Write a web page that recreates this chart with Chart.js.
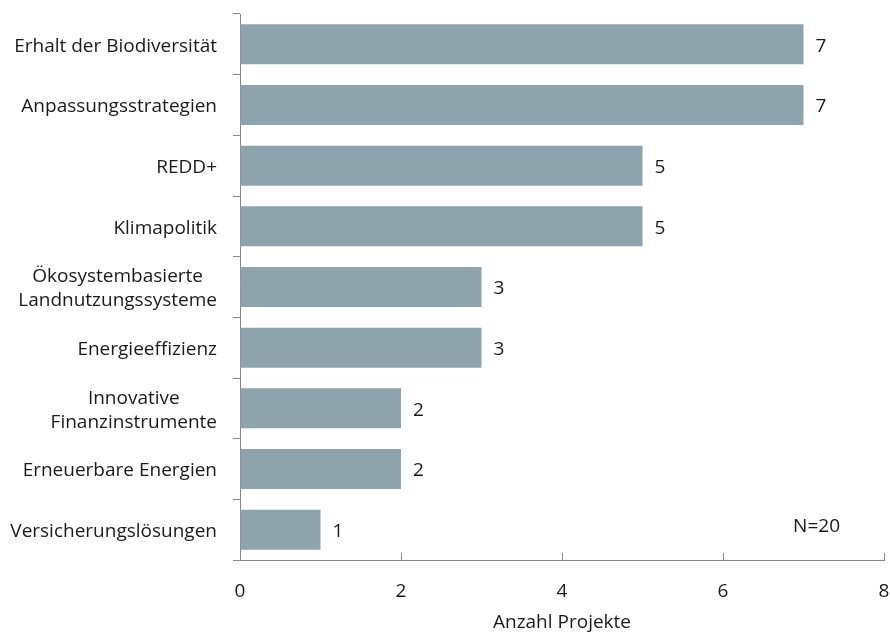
<!DOCTYPE html>
<html lang="de">
<head>
<meta charset="UTF-8">
<title>Projekte nach Themen</title>
<script src="https://cdn.jsdelivr.net/npm/chart.js"></script>
<style>
  body { margin: 0; background: #fff; }
  .wrap { width: 890px; height: 635px; }
</style>
</head>
<body>
<div class="wrap"><canvas id="grafico"></canvas></div>
<script>
// Themen (mehrzeilige Beschriftungen als Arrays)
const themen = [
  ["Erhalt der Biodiversität"],
  ["Anpassungsstrategien"],
  ["REDD+"],
  ["Klimapolitik"],
  ["Ökosystembasierte", "Landnutzungssysteme"],
  ["Energieeffizienz"],
  ["Innovative", "Finanzinstrumente"],
  ["Erneuerbare Energien"],
  ["Versicherungslösungen"]
];
const anzahl = [7, 7, 5, 5, 3, 3, 2, 2, 1];
const xMin = 0;
const xMax = 8;
const xSchritt = 2;
const hinweis = "N=20";

const schrift = "'Open Sans', 'Noto Sans', sans-serif";
const groesse = 19;
const textFarbe = "#1a1a1a";
const achsenFarbe = "#868686";

// Beschriftungen der Kategorien, Werte und N-Hinweis
const beschriftung = {
  id: "beschriftung",
  afterDraw(chart) {
    const ctx = chart.ctx;
    const y = chart.scales.y;
    const meta = chart.getDatasetMeta(0);
    ctx.save();
    ctx.font = groesse + "px " + schrift;
    ctx.fillStyle = textFarbe;
    ctx.textBaseline = "middle";

    // Kategorien: Block rechtsbündig, Zeilen zentriert
    ctx.textAlign = "center";
    themen.forEach(function (zeilen, i) {
      const mitte = y.getPixelForTick(i);
      let breite = 0;
      zeilen.forEach(function (z) { breite = Math.max(breite, ctx.measureText(z).width); });
      const cx = y.right - 23 - breite / 2;
      zeilen.forEach(function (z, j) {
        ctx.fillText(z, cx, mitte + 2 + (j - (zeilen.length - 1) / 2) * 24);
      });
    });

    // Werte neben den Balken
    ctx.textAlign = "left";
    meta.data.forEach(function (bar, i) {
      ctx.fillText(String(anzahl[i]), bar.x + 12, bar.y + 2);
    });

    // Stichprobengröße
    ctx.textAlign = "right";
    ctx.fillText(hinweis, chart.chartArea.right - 44, y.getPixelForTick(themen.length - 1) - 3);
    ctx.restore();
  }
};

new Chart(document.getElementById("grafico"), {
  type: "bar",
  data: {
    labels: themen,
    datasets: [{
      data: anzahl,
      backgroundColor: "#8fa3ad",
      borderWidth: 0,
      barPercentage: 0.66,
      categoryPercentage: 1
    }]
  },
  options: {
    indexAxis: "y",
    responsive: true,
    maintainAspectRatio: false,
    animation: false,
    layout: { padding: { top: 14, right: 6, left: 0, bottom: 0 } },
    plugins: {
      legend: { display: false },
      tooltip: { enabled: false }
    },
    scales: {
      x: {
        min: xMin,
        max: xMax,
        ticks: {
          stepSize: xSchritt,
          padding: 27,
          maxRotation: 0,
          color: textFarbe,
          font: { family: schrift, size: groesse }
        },
        grid: { drawOnChartArea: false, tickLength: -7, color: achsenFarbe },
        border: { color: achsenFarbe },
        title: {
          display: true,
          text: "Anzahl Projekte",
          color: textFarbe,
          font: { family: schrift, size: groesse },
          padding: { top: 0, bottom: 1 }
        },
        afterFit(s) {
          s.height = 75;
          s.paddingLeft = 0;
          s.paddingRight = 0;
        }
      },
      y: {
        ticks: { display: false },
        grid: { offset: true, drawOnChartArea: false, tickLength: 7, color: achsenFarbe },
        border: { color: achsenFarbe },
        afterFit(s) { s.width = 240; }
      }
    }
  },
  plugins: [beschriftung]
});
</script>
</body>
</html>
